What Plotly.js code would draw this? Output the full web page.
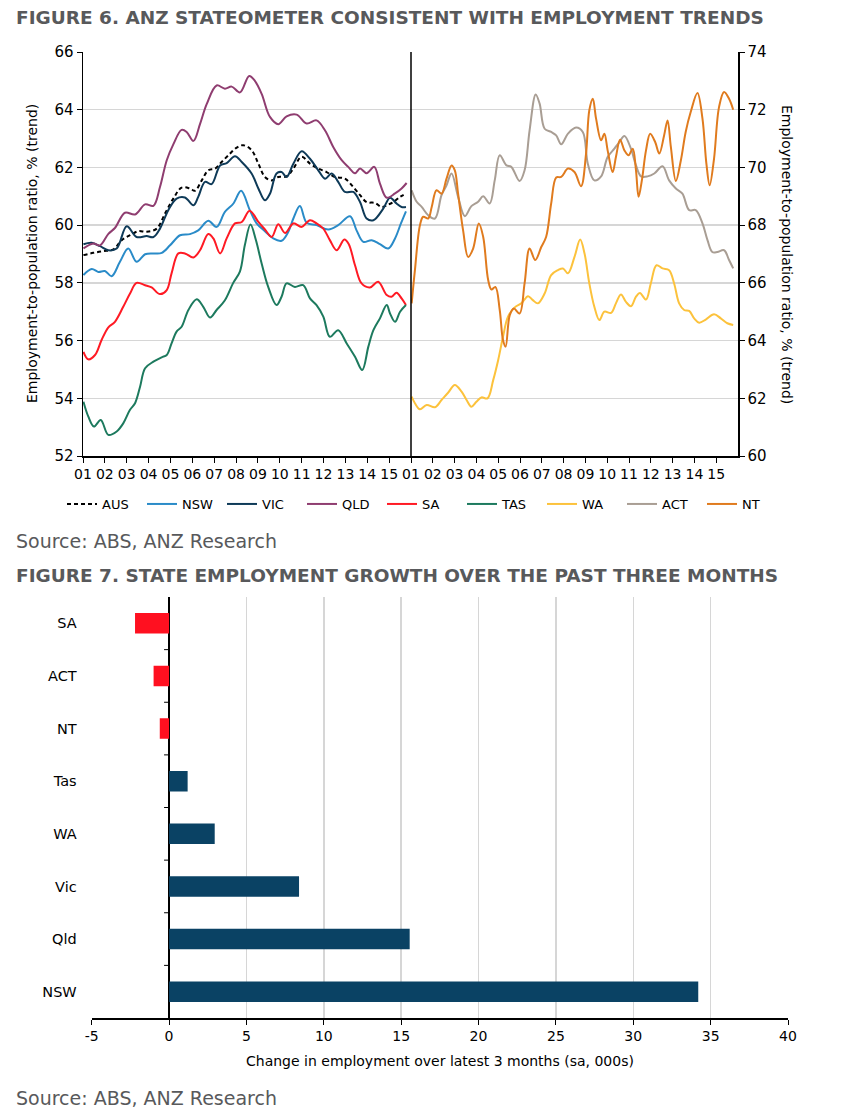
<!DOCTYPE html>
<html>
<head>
<meta charset="utf-8">
<script src="https://cdn.plot.ly/plotly-3.0.1.min.js"></script>
<style>
  html, body { margin: 0; padding: 0; background: #fff; }
  #chart { width: 842px; height: 1120px; }
</style>
</head>
<body>
<div id="chart"></div>
<script>
// ---------- DATA ----------
const yearTicks = [2001,2002,2003,2004,2005,2006,2007,2008,2009,2010,2011,2012,2013,2014,2015];
const yearLabels = ['01','02','03','04','05','06','07','08','09','10','11','12','13','14','15'];

const ausX = [2001.02,2001.47,2001.93,2002.39,2002.77,2003.15,2003.53,2003.91,2004.37,2004.75,2005.13,2005.51,2005.89,2006.12,2006.43,2006.73,2007.04,2007.34,2007.65,2008.03,2008.33,2008.71,2009.02,2009.32,2009.63,2009.93,2010.31,2010.62,2011.0,2011.38,2011.76,2012.14,2012.52,2012.98,2013.36,2013.67,2013.97,2014.35,2014.66,2014.89,2015.19,2015.5,2015.77];
const ausY = [58.96,59.04,59.1,59.16,59.48,59.65,59.79,59.77,59.88,60.4,60.92,61.3,61.27,61.19,61.55,61.9,61.96,62.19,62.42,62.69,62.77,62.6,62.13,61.67,61.55,61.67,61.69,61.96,62.37,62.13,61.96,61.84,61.67,61.61,61.32,61.04,60.8,60.77,60.63,60.69,60.8,60.98,61.09];

const nswX = [2001.02,2001.4,2001.7,2002.0,2002.31,2002.69,2003.07,2003.45,2003.84,2004.22,2004.6,2004.98,2005.44,2005.89,2006.27,2006.73,2007.11,2007.49,2007.88,2008.23,2008.63,2008.94,2009.32,2009.7,2010.08,2010.39,2010.62,2010.92,2011.23,2011.68,2012.22,2012.67,2013.21,2013.51,2013.82,2014.2,2014.58,2014.96,2015.27,2015.54,2015.77];
const nswY = [58.27,58.48,58.38,58.41,58.23,58.73,59.19,58.73,58.99,59.02,59.04,59.3,59.65,59.69,59.82,60.15,59.94,60.46,60.75,61.19,60.52,60.06,59.79,59.54,59.46,59.77,60.23,60.66,60.08,60.0,59.85,60.0,60.31,59.82,59.42,59.48,59.34,59.19,59.54,60.06,60.48];

const vicX = [2001.02,2001.4,2001.78,2002.16,2002.54,2003.0,2003.45,2003.91,2004.22,2004.52,2004.9,2005.28,2005.66,2006.05,2006.27,2006.58,2006.88,2007.27,2007.57,2007.95,2008.26,2008.71,2009.02,2009.32,2009.55,2009.85,2010.08,2010.31,2010.62,2011.0,2011.38,2011.76,2012.07,2012.37,2012.67,2012.98,2013.36,2013.67,2013.97,2014.28,2014.73,2015.04,2015.34,2015.57,2015.77];
const vicY = [59.34,59.39,59.27,59.13,59.19,59.96,59.59,59.62,59.59,59.88,60.52,60.92,60.96,60.69,60.98,61.5,61.42,62.07,62.15,62.39,62.19,61.79,61.27,60.86,61.09,61.79,61.84,61.67,62.13,62.56,62.3,61.9,61.61,61.79,61.5,61.15,61.15,60.8,60.23,60.17,60.57,60.95,60.75,60.63,60.63];

const qldX = [2001.02,2001.47,2001.78,2002.16,2002.46,2002.92,2003.38,2003.84,2004.22,2004.52,2004.83,2005.13,2005.51,2005.74,2006.05,2006.35,2006.66,2007.11,2007.49,2007.8,2008.18,2008.6,2008.86,2009.17,2009.55,2009.93,2010.31,2010.77,2011.23,2011.68,2012.07,2012.45,2012.83,2013.13,2013.44,2013.67,2013.97,2014.32,2014.58,2014.89,2015.27,2015.57,2015.8];
const qldY = [59.19,59.36,59.3,59.7,59.9,60.43,60.37,60.72,60.67,61.32,62.25,62.8,63.3,63.23,62.92,63.5,64.2,64.84,64.73,64.8,64.6,65.17,65.0,64.55,63.75,63.5,63.77,63.83,63.52,63.63,63.28,62.7,62.25,62.02,61.8,61.96,61.8,62.02,61.44,60.95,61.1,61.27,61.46];

const saX = [2001.02,2001.24,2001.55,2001.85,2002.16,2002.46,2002.84,2003.15,2003.45,2003.84,2004.14,2004.52,2004.83,2005.05,2005.36,2005.66,2006.05,2006.35,2006.73,2006.96,2007.27,2007.57,2007.95,2008.26,2008.62,2009.02,2009.32,2009.63,2009.93,2010.24,2010.62,2011.0,2011.38,2011.68,2011.99,2012.29,2012.6,2012.95,2013.15,2013.44,2013.74,2014.12,2014.5,2014.89,2015.11,2015.34,2015.57,2015.77];
const saY = [55.61,55.35,55.5,56.02,56.46,56.65,57.17,57.63,58.0,57.92,57.84,57.61,57.75,58.33,59.02,59.02,58.88,59.13,59.69,59.54,59.02,59.54,60.06,60.11,60.5,60.11,59.85,59.59,60.03,59.73,60.06,59.94,60.17,60.06,59.88,59.48,59.13,59.5,59.35,58.61,57.98,57.84,58.04,57.58,57.52,57.66,57.46,57.23];

const tasX = [2001.02,2001.24,2001.5,2001.81,2002.16,2002.54,2002.84,2003.15,2003.38,2003.61,2003.84,2004.22,2004.6,2004.83,2005.05,2005.28,2005.51,2005.82,2006.2,2006.5,2006.81,2007.11,2007.49,2007.87,2008.18,2008.4,2008.66,2008.9,2009.17,2009.47,2009.85,2010.08,2010.31,2010.69,2011.07,2011.38,2011.68,2011.99,2012.29,2012.67,2013.06,2013.44,2013.77,2014.05,2014.28,2014.58,2014.89,2015.04,2015.27,2015.5,2015.77];
const tasY = [53.88,53.37,53.02,53.25,52.73,52.85,53.13,53.6,53.83,54.4,55.04,55.27,55.42,55.5,55.9,56.31,56.48,57.06,57.43,57.17,56.8,57.06,57.4,58.0,58.4,59.3,60.02,59.5,58.67,57.86,57.23,57.52,57.98,57.86,57.92,57.46,57.23,56.83,56.13,56.36,55.9,55.44,54.98,55.79,56.36,56.77,57.23,56.94,56.65,57.0,57.23];

const waX = [2001.03,2001.18,2001.41,2001.72,2002.1,2002.4,2002.71,2003.01,2003.32,2003.55,2003.77,2004.0,2004.23,2004.51,2004.77,2005.0,2005.22,2005.45,2005.76,2006.06,2006.37,2006.59,2006.82,2007.13,2007.43,2007.74,2007.97,2008.2,2008.5,2008.76,2008.96,2009.18,2009.41,2009.64,2009.87,2010.18,2010.4,2010.63,2010.86,2011.09,2011.32,2011.5,2011.78,2012.0,2012.26,2012.54,2012.84,2013.07,2013.3,2013.53,2013.76,2013.99,2014.22,2014.52,2014.9,2015.21,2015.51,2015.78];
const waY = [62.06,61.83,61.62,61.77,61.69,61.94,62.2,62.46,62.23,61.94,61.71,61.88,62.03,62.0,62.63,63.33,64.13,64.83,65.15,65.29,65.54,65.4,65.29,65.63,66.27,66.44,66.5,66.33,66.9,67.5,67.02,65.98,65.17,64.71,65.0,64.96,65.29,65.6,65.34,65.19,65.52,65.65,65.42,65.98,66.61,66.5,66.44,65.98,65.29,65.06,65.03,64.77,64.62,64.73,64.91,64.77,64.6,64.54];

const actX = [2001.03,2001.26,2001.49,2001.79,2002.1,2002.4,2002.63,2002.86,2003.16,2003.47,2003.77,2004.08,2004.31,2004.61,2004.84,2005.07,2005.38,2005.6,2005.98,2006.21,2006.44,2006.72,2006.9,2007.13,2007.43,2007.66,2007.89,2008.2,2008.57,2008.88,2009.11,2009.41,2009.72,2010.02,2010.33,2010.56,2010.79,2011.09,2011.32,2011.55,2011.85,2012.16,2012.54,2012.84,2013.15,2013.45,2013.76,2014.06,2014.37,2014.6,2014.82,2015.05,2015.36,2015.59,2015.78];
const actY = [69.21,68.81,68.63,68.34,68.23,69.04,69.38,69.79,68.98,68.31,68.66,68.81,69.0,68.75,69.55,70.42,70.07,70.02,69.53,69.9,71.28,72.53,72.21,71.34,71.23,71.11,70.8,71.17,71.38,71.23,70.13,69.55,69.69,70.36,70.65,70.88,71.09,70.65,70.07,69.69,69.69,69.79,70.04,69.55,69.27,69.09,68.52,68.52,68.06,67.48,67.07,67.07,67.13,66.79,66.5];

const ntX = [2001.03,2001.18,2001.41,2001.56,2001.79,2001.95,2002.17,2002.4,2002.63,2002.86,2003.01,2003.16,2003.39,2003.62,2003.85,2004.11,2004.31,2004.54,2004.69,2004.87,2005.07,2005.22,2005.34,2005.53,2005.72,2005.98,2006.21,2006.44,2006.7,2006.98,2007.2,2007.43,2007.66,2007.89,2008.2,2008.5,2008.8,2009.03,2009.18,2009.34,2009.49,2009.72,2009.87,2010.02,2010.25,2010.4,2010.59,2010.79,2010.98,2011.17,2011.32,2011.44,2011.59,2011.78,2011.97,2012.2,2012.39,2012.61,2012.77,2012.92,2013.15,2013.38,2013.6,2013.83,2014.14,2014.37,2014.55,2014.7,2014.9,2015.13,2015.36,2015.59,2015.78];
const ntY = [65.29,66.44,68.0,68.29,68.23,68.63,69.21,69.09,69.61,70.07,69.9,69.09,67.82,66.9,67.19,68.06,67.6,66.1,65.77,65.86,65.06,64.02,63.79,64.88,65.11,64.94,65.98,67.19,66.79,67.25,67.6,68.75,69.65,69.67,69.96,69.84,69.35,70.48,71.98,72.38,71.69,70.94,71.17,70.59,69.84,70.36,70.96,70.59,70.42,70.65,69.9,68.98,69.55,70.59,71.17,70.88,70.48,71.11,71.63,70.71,69.53,70.25,71.23,71.92,72.58,71.69,70.13,69.38,70.3,72.09,72.61,72.38,72.0];

const barStates = ['SA','ACT','NT','Tas','WA','Vic','Qld','NSW'];
const barValues = [-2.2, -1.0, -0.6, 1.2, 2.95, 8.4, 15.55, 34.2];
const barTickVals = [-5, 0, 5, 10, 15, 20, 25, 30, 35, 40];
const barTickText = ['-5', '0', '5', '10', '15', '20', '25', '30', '35', '40'];

// ---------- STYLE ----------
const FONT = 'DejaVu Sans, Verdana, sans-serif';
const GREY_TXT = '#58595b';
const GRID = '#d6d6d6';
const W = 842, H = 1120;
const px = v => v / W;
const py = v => 1 - v / H;

function lineTrace(name, xs, ys, color, axis, dash) {
  return {
    type: 'scatter', mode: 'lines', name: name, x: xs, y: ys,
    xaxis: axis[0], yaxis: axis[1],
    line: { color: color, width: 2, shape: 'spline', smoothing: 1, dash: dash || 'solid' },
    hoverinfo: 'skip'
  };
}
const L = ['x', 'y'], R = ['x2', 'y2'];
const traces = [
  lineTrace('AUS', ausX, ausY, '#000000', L, '4px,3px'),
  lineTrace('NSW', nswX, nswY, '#2a8bc8', L),
  lineTrace('VIC', vicX, vicY, '#0e3a58', L),
  lineTrace('QLD', qldX, qldY, '#8f3d70', L),
  lineTrace('SA', saX, saY, '#ff1a24', L),
  lineTrace('TAS', tasX, tasY, '#1d7a5e', L),
  lineTrace('WA', waX, waY, '#fcc23c', R),
  lineTrace('ACT', actX, actY, '#a99e94', R),
  lineTrace('NT', ntX, ntY, '#e07b1e', R),
  {
    type: 'bar', orientation: 'h', x: barValues, y: barStates,
    xaxis: 'x3', yaxis: 'y3', width: 0.39, showlegend: false,
    marker: { color: barValues.map(v => v < 0 ? '#ff1020' : '#0a4264'), line: { width: 0 } },
    hoverinfo: 'skip'
  }
];

const xCommon = {
  range: [2001, 2016], tickmode: 'array', tickvals: yearTicks, ticktext: yearLabels,
  ticks: 'outside', ticklen: 5, tickwidth: 1, tickcolor: '#000',
  showline: true, linecolor: '#000', linewidth: 1.5, showgrid: false, zeroline: false,
  tickfont: { family: FONT, size: 14, color: '#000' }, fixedrange: true
};
const yCommon = {
  dtick: 2, ticks: 'outside', ticklen: 5, tickwidth: 1, tickcolor: '#000',
  showline: true, linecolor: '#000', linewidth: 1.5, showgrid: true, gridcolor: GRID, gridwidth: 1.5,
  zeroline: false, tickfont: { family: FONT, size: 15, color: '#000' }, fixedrange: true,
  domain: [py(456), py(52)]
};

const shapes = [
  { type: 'line', xref: 'x2 domain', yref: 'y2 domain', x0: 0, x1: 0, y0: 0, y1: 1,
    line: { color: '#000', width: 1.5 } }
];
for (let i = 1; i < barStates.length; i++) {
  shapes.push({ type: 'line', xref: 'x3', yref: 'y3', xsizemode: 'pixel', xanchor: 0,
    x0: -5, x1: 0, y0: i - 0.5, y1: i - 0.5, line: { color: '#000', width: 1 } });
}

function ann(text, x, y, opts) {
  return Object.assign({ text: text, xref: 'paper', yref: 'paper', x: x, y: y,
    showarrow: false, xanchor: 'left', yanchor: 'middle',
    font: { family: FONT, size: 14, color: '#000' } }, opts || {});
}

const layout = {
  width: W, height: H,
  margin: { l: 0, r: 0, t: 0, b: 0 },
  paper_bgcolor: '#fff', plot_bgcolor: 'rgba(0,0,0,0)',
  showlegend: true,
  legend: {
    orientation: 'h', x: px(62), xanchor: 'left', y: py(504), yanchor: 'middle',
    font: { family: FONT, size: 13, color: '#000' }, itemwidth: 30, traceorder: 'normal',
    entrywidth: 35, entrywidthmode: 'pixels',
    bgcolor: 'rgba(0,0,0,0)'
  },
  xaxis: Object.assign({}, xCommon, { domain: [px(83), px(411)], anchor: 'y' }),
  xaxis2: Object.assign({}, xCommon, { domain: [px(411), px(738)], anchor: 'y2' }),
  yaxis: Object.assign({}, yCommon, { range: [52, 66], anchor: 'x' }),
  yaxis2: Object.assign({}, yCommon, { range: [60, 74], anchor: 'x2', side: 'right' }),
  xaxis3: {
    domain: [px(91.7), px(788)], anchor: 'y3', range: [-5, 40],
    tickmode: 'array', tickvals: barTickVals, ticktext: barTickText,
    ticks: 'outside', ticklen: 5, tickcolor: '#000', showline: true, linecolor: '#000', linewidth: 1.5,
    showgrid: true, gridcolor: GRID, gridwidth: 1.5,
    zeroline: true, zerolinecolor: '#000', zerolinewidth: 1.5,
    tickfont: { family: FONT, size: 14, color: '#000' }, fixedrange: true
  },
  yaxis3: {
    domain: [py(1018), py(597)], anchor: 'x3', type: 'category',
    categoryorder: 'array', categoryarray: barStates, autorange: 'reversed',
    showline: false, ticks: '', showgrid: false, zeroline: false, ticklabelstandoff: 14,
    tickfont: { family: FONT, size: 14.5, color: '#000' }, fixedrange: true
  },
  shapes: shapes,
  annotations: [
    ann('FIGURE 6. ANZ STATEOMETER CONSISTENT WITH EMPLOYMENT TRENDS', px(14), py(18),
      { font: { family: FONT, size: 18.5, color: GREY_TXT, weight: 'bold' } }),
    ann('Source: ABS, ANZ Research', px(14), py(541),
      { font: { family: FONT, size: 19, color: GREY_TXT } }),
    ann('FIGURE 7. STATE EMPLOYMENT GROWTH OVER THE PAST THREE MONTHS', px(14), py(575),
      { font: { family: FONT, size: 18.5, color: GREY_TXT, weight: 'bold' } }),
    ann('Source: ABS, ANZ Research', px(14), py(1098),
      { font: { family: FONT, size: 19, color: GREY_TXT } }),
    ann('Employment-to-population ratio, % (trend)', px(32), py(254),
      { xanchor: 'center', textangle: -90 }),
    ann('Employment-to-population ratio, % (trend)', px(787), py(254),
      { xanchor: 'center', textangle: 90 }),
    ann('Change in employment over latest 3 months (sa, 000s)', px(440), py(1061),
      { xanchor: 'center' })
  ]
};

Plotly.newPlot('chart', traces, layout, { staticPlot: true, displayModeBar: false });
</script>
</body>
</html>
